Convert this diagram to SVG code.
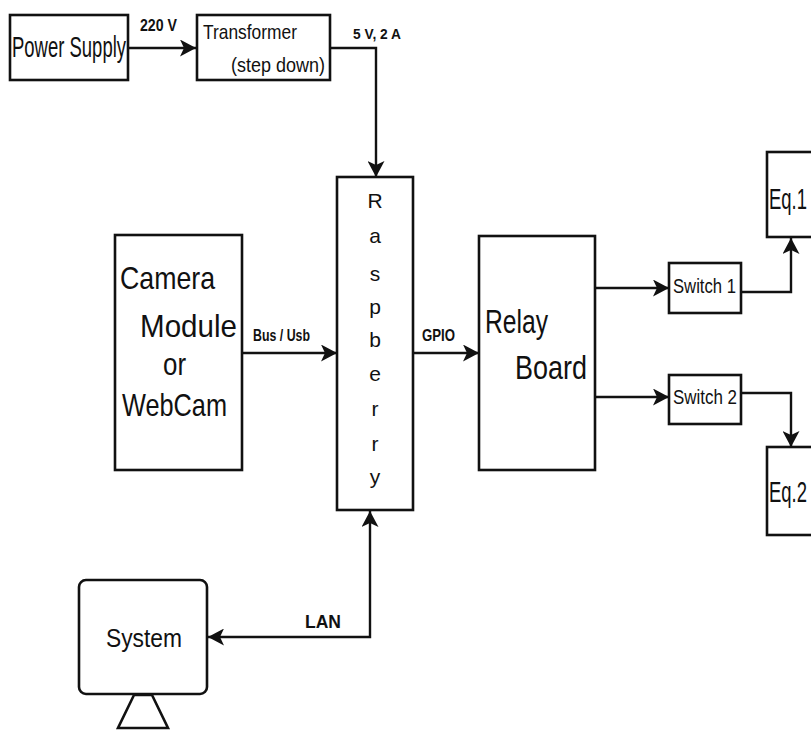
<svg xmlns="http://www.w3.org/2000/svg" width="811" height="730" viewBox="0 0 811 730">
<style>
.box{fill:#fff;stroke:#111;stroke-width:2.6}
.ln{fill:none;stroke:#111;stroke-width:2.4}
text{font-family:"Liberation Sans",Arial,sans-serif;fill:#111}
.b{font-weight:bold}
</style>
<defs>
<marker id="ah" viewBox="0 0 17 17" refX="16" refY="8.5" markerWidth="17" markerHeight="17" markerUnits="userSpaceOnUse" orient="auto">
<path d="M16,8.5 L0,0 L4,8.5 L0,17 Z" fill="#111"/>
</marker>
</defs>
<rect width="811" height="730" fill="#fff"/>
<g id="connectors">
<line class="ln" x1="128" y1="48" x2="196" y2="48" marker-end="url(#ah)"/>
<polyline class="ln" points="330,48 376,48 376,177" marker-end="url(#ah)"/>
<line class="ln" x1="242" y1="353" x2="337" y2="353" marker-end="url(#ah)"/>
<line class="ln" x1="413" y1="353" x2="479" y2="353" marker-end="url(#ah)"/>
<line class="ln" x1="595" y1="288" x2="669" y2="288" marker-end="url(#ah)"/>
<line class="ln" x1="595" y1="397" x2="669" y2="397" marker-end="url(#ah)"/>
<polyline class="ln" points="741,292 791,292 791,238" marker-end="url(#ah)"/>
<polyline class="ln" points="741,393 791,393 791,447" marker-end="url(#ah)"/>
<line class="ln" x1="370" y1="600" x2="370" y2="511" marker-end="url(#ah)"/>
<polyline class="ln" points="370,600 370,637 208,637" marker-end="url(#ah)"/>
<text class="b" x="140" y="31" font-size="16" textLength="37" lengthAdjust="spacingAndGlyphs">220 V</text>
<text class="b" x="353" y="39" font-size="15" textLength="48" lengthAdjust="spacingAndGlyphs">5 V, 2 A</text>
<text class="b" x="253" y="341" font-size="17" textLength="57" lengthAdjust="spacingAndGlyphs">Bus / Usb</text>
<text class="b" x="422" y="341" font-size="17" textLength="33" lengthAdjust="spacingAndGlyphs">GPIO</text>
<text class="b" x="305" y="628" font-size="18" textLength="36" lengthAdjust="spacingAndGlyphs">LAN</text>
</g>
<g id="power">
<rect class="box" x="10" y="15" width="118" height="65"/>
<text x="12" y="57" font-size="29" textLength="114" lengthAdjust="spacingAndGlyphs">Power Supply</text>
</g>
<g id="transformer">
<rect class="box" x="197" y="15" width="133" height="65"/>
<text x="203" y="39" font-size="21" textLength="94" lengthAdjust="spacingAndGlyphs">Transformer</text>
<text x="231" y="72" font-size="21" textLength="94" lengthAdjust="spacingAndGlyphs">(step down)</text>
</g>
<g id="raspberry">
<rect class="box" x="337" y="177" width="76" height="333"/>
<g font-size="21" text-anchor="middle">
<text x="375" y="208">R</text>
<text x="375" y="243">a</text>
<text x="375" y="281">s</text>
<text x="375" y="314">p</text>
<text x="375" y="347">b</text>
<text x="375" y="381">e</text>
<text x="375" y="416">r</text>
<text x="375" y="451">r</text>
<text x="375" y="484">y</text>
</g>
</g>
<g id="camera">
<rect class="box" x="115" y="235" width="127" height="235"/>
<text x="120" y="289" font-size="32" textLength="95" lengthAdjust="spacingAndGlyphs">Camera</text>
<text x="140" y="337" font-size="32" textLength="97" lengthAdjust="spacingAndGlyphs">Module</text>
<text x="163" y="375" font-size="32" textLength="23" lengthAdjust="spacingAndGlyphs">or</text>
<text x="122" y="416" font-size="32" textLength="105" lengthAdjust="spacingAndGlyphs">WebCam</text>
</g>
<g id="relay">
<rect class="box" x="479" y="236" width="116" height="234"/>
<text x="485" y="333" font-size="33" textLength="63" lengthAdjust="spacingAndGlyphs">Relay</text>
<text x="515" y="379" font-size="33" textLength="72" lengthAdjust="spacingAndGlyphs">Board</text>
</g>
<g id="switch1">
<rect class="box" x="669" y="263" width="72" height="50"/>
<text x="673" y="293" font-size="20" textLength="63" lengthAdjust="spacingAndGlyphs">Switch 1</text>
</g>
<g id="switch2">
<rect class="box" x="669" y="375" width="72" height="49"/>
<text x="673" y="404" font-size="20" textLength="64" lengthAdjust="spacingAndGlyphs">Switch 2</text>
</g>
<g id="eq1">
<rect class="box" x="767" y="152" width="70" height="85"/>
<text x="769" y="209" font-size="29" textLength="38" lengthAdjust="spacingAndGlyphs">Eq.1</text>
</g>
<g id="eq2">
<rect class="box" x="767" y="447" width="70" height="88"/>
<text x="769" y="502" font-size="29" textLength="38" lengthAdjust="spacingAndGlyphs">Eq.2</text>
</g>
<g id="system">
<rect class="box" x="79" y="580" width="128" height="114" rx="7"/>
<text x="106" y="647" font-size="26" textLength="76" lengthAdjust="spacingAndGlyphs">System</text>
<polygon class="box" points="134,695 152,695 168,728 118,728"/>
</g>
</svg>
